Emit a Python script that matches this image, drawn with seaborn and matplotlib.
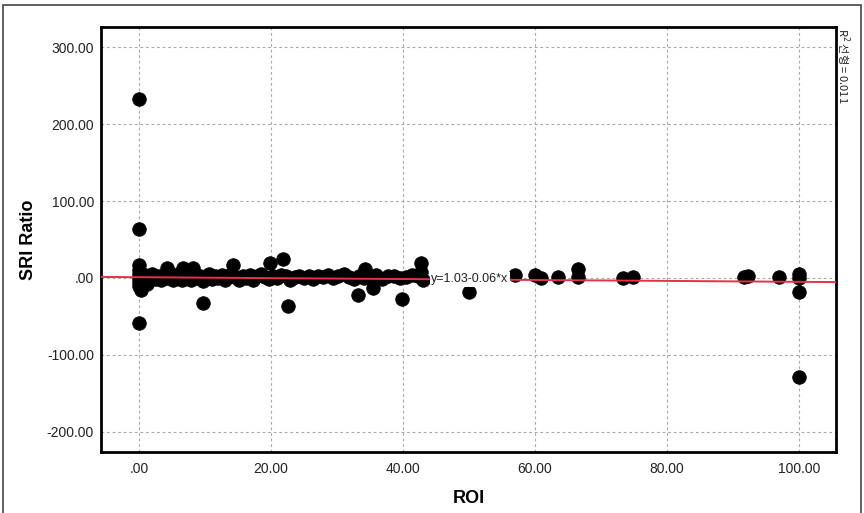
import matplotlib
matplotlib.use("Agg")
import matplotlib.pyplot as plt
import seaborn as sns
import pandas as pd
import numpy as np
from matplotlib.ticker import FuncFormatter, FixedLocator
from matplotlib.patches import Rectangle

# ---- data ----
roi_outliers = [0, 0, 0, 0, 0, 0, 0, 0, 0, 0.3, 1.2,
                4.2, 6.7, 8.2, 14.2, 19.8, 9.7, 21.8, 22.6, 34.2, 33.2, 35.5, 39.8, 42.7, 42.7,
                50.0, 57.0, 60.0, 60.9, 63.5, 66.5, 66.5, 73.3, 74.8, 91.7, 92.3, 97.0,
                100, 100, 100, 100]
sri_outliers = [232, 64, 17, 10, 5, 0, -5, -10, -58, -15, -8,
                13, 13, 13, 17, 19, -33, 25, -37, 12, -22, -13, -27, 19, 8,
                -18, 4, 4, 0, 1, 12, 1, 0, 1, 1.5, 3, 1.5,
                5, 0, -18, -129]

roi_cluster = [0.3, 0.6, 0.9, 1.2, 1.6, 2.0, 2.4, 2.9, 3.3, 3.8, 4.2, 4.7, 5.1, 5.6,
               6.0, 6.5, 7.0, 7.4, 7.9, 8.3, 8.8, 9.2, 9.7, 10.1, 10.6, 11.0, 11.5,
               12.0, 12.5, 13.0, 13.5, 14.0, 14.6, 15.1, 15.7, 16.2, 16.8, 17.3, 17.9,
               18.5, 19.1, 19.7, 20.3, 20.9, 21.5, 22.2, 22.9, 23.6, 24.3, 25.0, 25.7,
               26.4, 27.1, 27.8, 28.6, 29.4, 30.2, 31.0, 31.8, 32.6, 33.4, 34.1, 35.0,
               35.9, 36.8, 37.7, 38.6, 39.5, 40.4, 41.3, 42.2, 43.0]
sri_cluster = [3, -2, 4, -4, 1, 5, -1, 2, -3, 4, 0, 6, -2, 3,
               5, -3, 1, 4, -2, 6, 0, 3, -4, 2, 5, -1, 3,
               0, 4, -2, 2, 5, 1, -3, 3, 0, 4, -2, 2,
               5, 1, -1, 3, 0, 4, 2, -3, 1, 3, 0, 2,
               -1, 3, 1, 4, 0, 2, 5, 1, -1, 3, 0, 2,
               4, -1, 2, 3, 0, 1, 4, 2, -2]

roi_all = roi_cluster + roi_outliers
sri_all = sri_cluster + sri_outliers

fit_intercept = 1.03
fit_slope = -0.06
fit_label = "y=1.03-0.06*x"
r2_label = "R$^2$ 선형 = 0.011"

x_ticks = [0, 20, 40, 60, 80, 100]
y_ticks = [-200, -100, 0, 100, 200, 300]

df = pd.DataFrame({"ROI": roi_all, "SRI Ratio": sri_all})

sns.set_style("white")
plt.rcParams['font.family'] = ['Liberation Sans', 'DejaVu Sans']

fig = plt.figure(figsize=(8.64, 5.13), dpi=100)
ax = fig.add_axes([101/864, 1-452/513, (836-101)/864, (452-27)/513])

xlim = (-5.76, 105.6)
ylim = (-226, 326)

sns.scatterplot(data=df, x="ROI", y="SRI Ratio", ax=ax, s=95, color="black",
                edgecolor="black", linewidth=0.6, zorder=3, legend=False)

# fit line from the stated coefficients
fx = np.array(xlim)
fit_df = pd.DataFrame({"x": fx, "y": fit_intercept + fit_slope * fx})
sns.lineplot(data=fit_df, x="x", y="y", ax=ax, color="#e8304a", linewidth=1.4, zorder=4)

ax.text(44.3, fit_intercept + fit_slope * 44.3, fit_label, fontsize=9, va="center", ha="left",
        color="#222222", zorder=5,
        bbox=dict(facecolor="white", edgecolor="none", pad=1.0))

ax.set_xlim(*xlim)
ax.set_ylim(*ylim)
ax.xaxis.set_major_locator(FixedLocator(x_ticks))
ax.yaxis.set_major_locator(FixedLocator(y_ticks))

def fmt(v, pos):
    s = f"{v:.2f}"
    if s.startswith("0."):
        s = s[1:]
    return s

ax.xaxis.set_major_formatter(FuncFormatter(fmt))
ax.yaxis.set_major_formatter(FuncFormatter(fmt))
ax.grid(True, color="#a8a8a8", linestyle=(0, (2.5, 2.5)), linewidth=0.8)
ax.set_axisbelow(True)
ax.tick_params(axis="x", length=0, pad=7, labelsize=10, labelcolor="#222222")
ax.tick_params(axis="y", length=0, pad=5, labelsize=10, labelcolor="#222222")

for sp in ax.spines.values():
    sp.set_visible(True)
    sp.set_color("black")
    sp.set_linewidth(2.0)

ax.set_xlabel("ROI", fontsize=13, fontweight="bold", labelpad=10, color="black")
ax.set_ylabel("SRI Ratio", fontsize=13, fontweight="bold", labelpad=7, color="black")

fig.text(843/864, 1-28/513, r2_label, rotation=270, ha="center", va="top", fontsize=8,
         family=['Noto Sans CJK KR', 'DejaVu Sans'], color="#222222")

fig.patches.append(Rectangle((3/864, -0.01), (861-3)/864, 1-5/513 + 0.01,
                             transform=fig.transFigure, fill=False,
                             edgecolor="#444444", linewidth=1.2))

fig.savefig("out.png", dpi=100)
